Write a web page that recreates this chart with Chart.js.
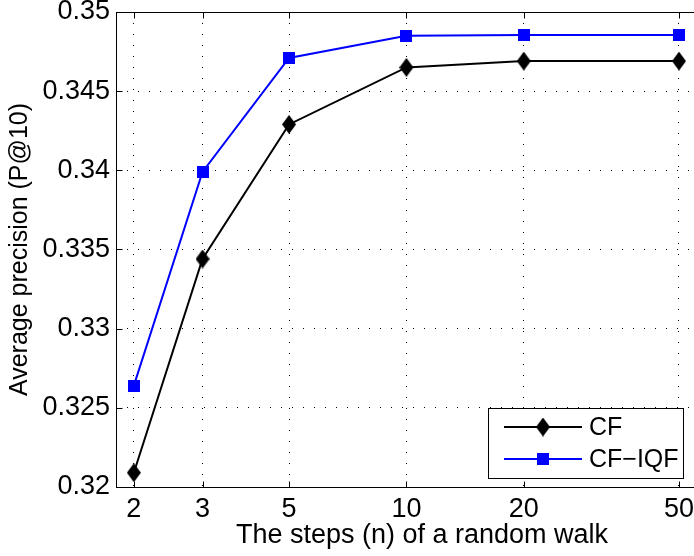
<!DOCTYPE html>
<html>
<head>
<meta charset="utf-8">
<script src="https://cdn.jsdelivr.net/npm/chart.js@4/dist/chart.umd.min.js"></script>
<style>
  html, body { margin: 0; padding: 0; background: #fff; overflow: hidden; }
  .canvas-box { width: 694px; height: 556px; overflow: hidden; }
</style>
</head>
<body>
<div class="canvas-box">
  <canvas id="stepChart" width="738" height="556"></canvas>
</div>
<script>
// data
const steps = [2, 3, 5, 10, 20, 50];
const stepLabels = ['2', '3', '5', '10', '20', '50'];
const cfValues = [0.3209, 0.3344, 0.3429, 0.3465, 0.3469, 0.3469];
const cfIqfValues = [0.3264, 0.3399, 0.3471, 0.3485, 0.34855, 0.34855];
const seriesNames = ['CF', 'CF\u2212IQF'];
const yTicks = [0.32, 0.325, 0.33, 0.335, 0.34, 0.345, 0.35];
const yTickLabels = ['0.32', '0.325', '0.33', '0.335', '0.34', '0.345', '0.35'];

Chart.defaults.font.family = '"Liberation Sans", Arial, Helvetica, sans-serif';
Chart.defaults.color = '#000';

// matlab-ish markers
const makeDiamond = (w, h, color) => {
  const c = document.createElement('canvas');
  c.width = w; c.height = h;
  const g = c.getContext('2d');
  g.fillStyle = color;
  g.beginPath();
  g.moveTo(w / 2, 0);
  g.lineTo(w, h / 2);
  g.lineTo(w / 2, h);
  g.lineTo(0, h / 2);
  g.closePath();
  g.fill();
  return c;
};

const makeSquare = (s, color) => {
  const c = document.createElement('canvas');
  c.width = s; c.height = s;
  const g = c.getContext('2d');
  g.fillStyle = color;
  g.fillRect(0, 0, s, s);
  return c;
};

const diamond = makeDiamond(14, 19, '#000');
const square = makeSquare(12, '#0000ff');

const toPoints = vals => steps.map((s, i) => ({ x: s, y: vals[i] }));

// box, inward ticks and the legend drawn like the matlab figure
const matlabFrame = {
  id: 'matlabFrame',
  afterDraw(chart) {
    const { ctx, chartArea: a, scales: { x, y } } = chart;
    const L = Math.round(a.left) + 0.5, R = Math.round(a.right) + 0.5;
    const T = Math.round(a.top) + 0.5, B = Math.round(a.bottom) + 0.5;
    ctx.save();
    ctx.setLineDash([]);
    ctx.strokeStyle = '#000';
    ctx.lineWidth = 1;
    ctx.strokeRect(L, T, R - L, B - T);

    ctx.beginPath();
    x.ticks.forEach(t => {
      const px = Math.round(x.getPixelForValue(t.value)) + 0.5;
      ctx.moveTo(px, B); ctx.lineTo(px, B - 6);
      ctx.moveTo(px, T); ctx.lineTo(px, T + 6);
    });
    y.ticks.forEach(t => {
      const py = Math.round(y.getPixelForValue(t.value)) + 0.5;
      ctx.moveTo(L, py); ctx.lineTo(L + 6, py);
      ctx.moveTo(R, py); ctx.lineTo(R - 6, py);
    });
    ctx.stroke();

    // legend
    const bx = 488.5, by = 408.5, bw = 195, bh = 70;
    ctx.fillStyle = '#fff';
    ctx.fillRect(bx, by, bw, bh);
    ctx.strokeRect(bx, by, bw, bh);
    ctx.font = '25px "Liberation Sans", Arial, sans-serif';
    ctx.textBaseline = 'middle';
    ctx.textAlign = 'left';
    chart.data.datasets.forEach((ds, i) => {
      const ry = 427 + i * 32;
      ctx.strokeStyle = ds.borderColor;
      ctx.lineWidth = ds.borderWidth;
      ctx.beginPath();
      ctx.moveTo(504, ry); ctx.lineTo(582, ry);
      ctx.stroke();
      const img = ds.pointStyle;
      ctx.drawImage(img, 543 - img.width / 2, ry - img.height / 2);
      ctx.fillStyle = '#000';
      ctx.fillText(ds.label, 589, ry + 1);
    });
    ctx.restore();
  }
};

const ctx = document.getElementById('stepChart').getContext('2d');
new Chart(ctx, {
  type: 'line',
  data: {
    datasets: [
      {
        label: seriesNames[0],
        data: toPoints(cfValues),
        borderColor: '#000000',
        backgroundColor: '#000000',
        borderWidth: 2,
        pointStyle: diamond,
        pointRadius: 8,
        tension: 0,
      },
      {
        label: seriesNames[1],
        data: toPoints(cfIqfValues),
        borderColor: '#0000ff',
        backgroundColor: '#0000ff',
        borderWidth: 2,
        pointStyle: square,
        pointRadius: 7,
        tension: 0,
      },
    ],
  },
  options: {
    responsive: false,
    animation: false,
    events: [],
    layout: { padding: { top: 12, right: 4, left: 0, bottom: 0 } },
    plugins: {
      legend: { display: false },
      tooltip: { enabled: false },
    },
    scales: {
      x: {
        type: 'logarithmic',
        min: 1.8,
        max: 66.8,
        afterBuildTicks: s => { s.ticks = steps.map(v => ({ value: v })); },
        afterFit: s => { s.height = 69; s.paddingLeft = 0; s.paddingRight = 0; },
        grid: { color: '#000', lineWidth: 1, drawTicks: false },
        border: { display: false, dash: [1, 10] },
        ticks: {
          autoSkip: false,
          maxRotation: 0,
          padding: 6,
          font: { size: 27 },
          callback: (v, i) => stepLabels[i],
        },
        title: {
          display: true,
          text: 'The steps (n) of a random walk',
          font: { size: 27 },
          padding: { top: 0, bottom: 4 },
        },
      },
      y: {
        min: 0.32,
        max: 0.35,
        afterBuildTicks: s => { s.ticks = yTicks.map(v => ({ value: v })); },
        afterFit: s => { s.width = 116; s.paddingTop = 0; s.paddingBottom = 0; },
        grid: { color: '#000', lineWidth: 1, drawTicks: false },
        border: { display: false, dash: [1, 10] },
        ticks: {
          padding: 6,
          font: { size: 27 },
          callback: (v, i) => yTickLabels[i],
        },
        title: {
          display: true,
          text: 'Average precision (P@10)',
          font: { size: 25 },
          padding: { top: 5, bottom: 0 },
        },
      },
    },
  },
  plugins: [matlabFrame],
});
</script>
</body>
</html>
